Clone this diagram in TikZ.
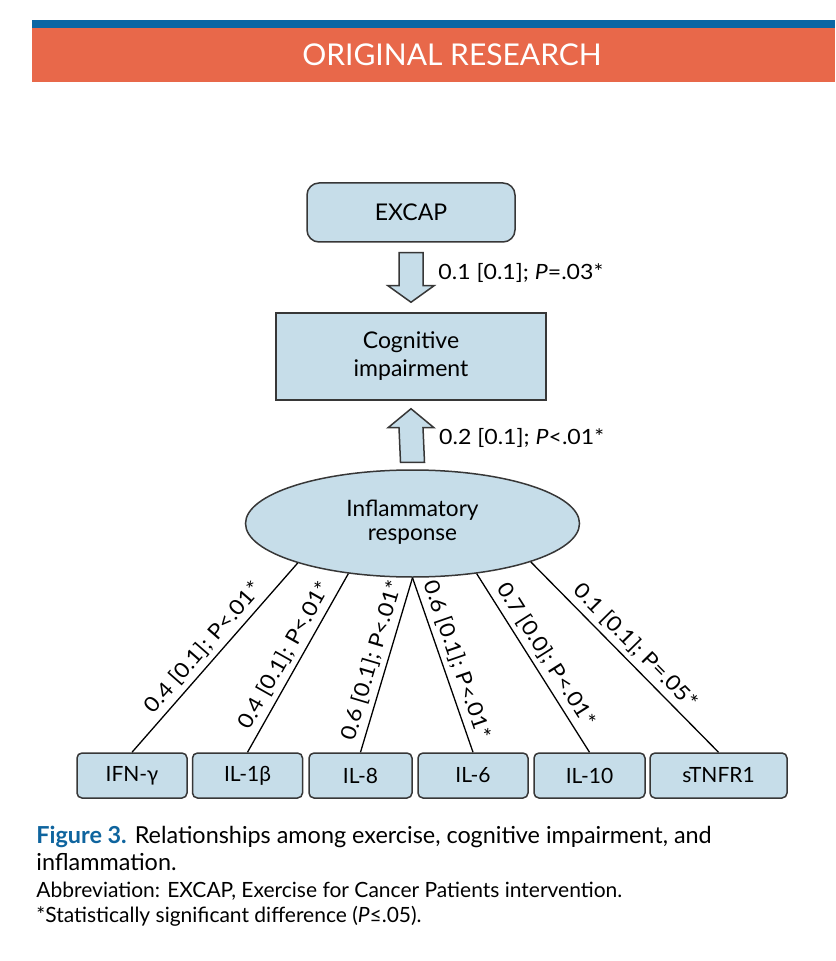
\documentclass[tikz,border=0pt]{standalone}
\usepackage{fontspec}
\setmainfont{Lato}
\newfontfamily\lblfont[FakeStretch=1.1]{Lato}
\usepackage{xcolor}
\usetikzlibrary{shapes.geometric,positioning,calc}
\definecolor{boxblue}{RGB}{198,221,233}
\definecolor{edgegray}{RGB}{55,55,55}
\definecolor{barorange}{RGB}{232,104,74}
\definecolor{barblue}{RGB}{10,102,164}
\definecolor{figblue}{RGB}{14,100,158}

\begin{document}
\begin{tikzpicture}[
    x=0.5pt, y=-0.5pt,
    block/.style={rectangle, draw=edgegray, fill=boxblue, line width=0.75pt, align=center, inner sep=0pt, font=\fontsize{11.5}{14}\selectfont},
    roundbox/.style={block, rounded corners=6pt, font=\fontsize{11.5}{14}\selectfont},
    oval/.style={ellipse, draw=edgegray, fill=boxblue, line width=0.75pt, align=center, inner sep=0pt, font=\fontsize{11.3}{13}\selectfont},
    cell/.style={block, rounded corners=2.5pt, minimum height=22.5pt, font=\fontsize{10.5}{12}\selectfont},
    hollow/.style={draw=edgegray, fill=boxblue, line width=0.75pt, line join=miter},
    link/.style={draw=black, line width=0.65pt},
    lbl/.style={midway, sloped, above, inner sep=2.5pt, font=\lblfont\fontsize{10.5}{12}\selectfont},
    stat/.style={anchor=west, inner sep=0pt, font=\lblfont\fontsize{10.5}{12}\selectfont}
]
    \useasboundingbox (0,0) rectangle (835,961);
    \fill[white] (0,0) rectangle (835,961);

    % Header bars
    \fill[barblue] (32,20) rectangle (835,28);
    \fill[barorange] (32,28) rectangle (835,82);
    \node[text=white, font=\fontsize{15}{17}\selectfont] (header) at (452,55) {ORIGINAL RESEARCH};

    % Main nodes
    \node[roundbox, minimum width=104pt, minimum height=29.5pt] (excap) at (411,212.5) {EXCAP};
    \node[block, minimum width=135pt, minimum height=43.5pt] (cog) at (411,356.5) {Cognitive\\impairment};
    \node[oval, minimum width=167pt, minimum height=53.5pt] (infl) at (412.5,523.5) {\raisebox{-2pt}{\begin{tabular}{@{}c@{}}Inflammatory\\[-1pt]response\end{tabular}}};

    % Block arrows
    \draw[hollow] ($(excap.south)+(-12,10)$) -- ($(excap.south)+(12,10)$) -- ($(excap.south)+(12,43)$)
        -- ($(excap.south)+(23,43)$) -- ($(cog.north)+(0,-10)$) -- ($(excap.south)+(-23,43)$)
        -- ($(excap.south)+(-12,43)$) -- cycle;
    \draw[hollow] ($(infl.north)+(-12,-7)$) -- ($(infl.north)+(12,-7)$) -- ($(cog.south)+(12,27)$)
        -- ($(cog.south)+(23,27)$) -- ($(cog.south)+(0,8)$) -- ($(cog.south)+(-23,27)$)
        -- ($(cog.south)+(-12,27)$) -- cycle;
    \node[stat] (s1) at ($(excap.south)!0.5!(cog.north)+(27,-5)$) {0.1 [0.1]; \textit{P}=.03*};
    \node[stat] (s2) at ($(cog.south)!0.5!(infl.north)+(27,3)$) {0.2 [0.1]; \textit{P}<.01*};

    % Markers and loadings
    \foreach \nm/\x/\w/\txt/\ang/\load in {
        ifn/132/55/IFN-γ/199/{0.4 [0.1]; P<.01*},
        ilb/247.5/55/IL-1β/218/{0.4 [0.1]; P<.01*},
        ile/360.5/51.5/IL-8/270/{0.6 [0.1]; P<.01*},
        ils/473/55/IL-6/270/{0.6 [0.1]; P<.01*},
        ilt/589.5/55.5/IL-10/322/{0.7 [0.0]; P<.01*},
        stn/718.5/68.5/sTNFR1/342/{0.1 [0.1]; P=.05*}} {
        \node[cell, minimum width=\w pt] (\nm) at (\x,775.5) {\txt};
        \draw[link] (infl.\ang) -- node[lbl] {\load} (\nm.north);
    }

    % Caption
    \node[anchor=base west, align=left, inner sep=0pt, font=\fontsize{11.7}{13.2}\selectfont] (cap) at (36,870)
        {{\color{figblue}\bfseries Figure 3.} Relationships among exercise, cognitive impairment, and\\inflammation.};
    \node[anchor=base west, align=left, inner sep=0pt, font=\fontsize{10.5}{12.5}\selectfont] (note) at (36,922)
        {Abbreviation: EXCAP, Exercise for Cancer Patients intervention.\\*Statistically significant difference (\textit{P}≤.05).};
\end{tikzpicture}
\end{document}
